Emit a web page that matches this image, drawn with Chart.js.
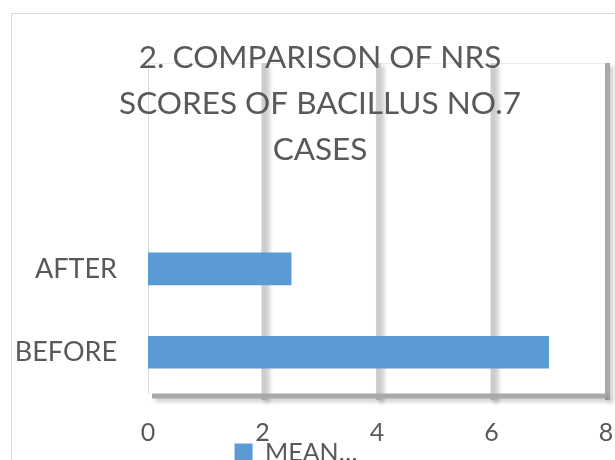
<!DOCTYPE html>
<html>
<head>
<meta charset="utf-8">
<script src="https://cdn.jsdelivr.net/npm/chart.js@4.4.1/dist/chart.umd.min.js"></script>
<style>
  html, body { margin: 0; padding: 0; background: #fff; overflow: hidden; }
  body { width: 615px; height: 460px; position: relative; }
  #marco { position: absolute; left: 11px; top: 13px; width: 700px; height: 600px; border: 1px solid #d9d9d9; box-sizing: border-box; }
  #grafico { position: absolute; left: 0; top: 0; }
</style>
</head>
<body>
<div id="marco"></div>
<canvas id="grafico" width="640" height="475"></canvas>
<script>
const titulo = ["2. COMPARISON OF NRS", "SCORES OF BACILLUS NO.7", "CASES"];
const categorias = ["BEFORE", "AFTER"]; // el primero queda abajo, como en Excel
const mediaNRS = [7.0, 2.5];
const serie = "MEAN…";
const ticksX = [0, 2, 4, 6, 8];

const gris = "#595959";
const azul = "#5b9bd5";

// título encima del área de trazado (Excel lo superpone a la rejilla)
const tituloPlugin = {
  id: "tituloSobrePlot",
  afterDraw(chart) {
    const ctx = chart.ctx;
    ctx.save();
    ctx.font = "31.5px Lato";
    ctx.fillStyle = gris;
    ctx.textAlign = "center";
    ctx.textBaseline = "alphabetic";
    titulo.forEach((linea, i) => ctx.fillText(linea, 320, 68 + i * 46));
    ctx.restore();
  },
};

// rejilla con sombra al estilo Excel, pintada con la escala x del gráfico
const rejillaPlugin = {
  id: "rejillaSombra",
  beforeDatasetsDraw(chart) {
    const { ctx, chartArea } = chart;
    const x = chart.scales.x;
    const { top, bottom, left, right } = chartArea;

    ctx.save();
    // borde superior fino
    ctx.strokeStyle = "#ececec";
    ctx.lineWidth = 1;
    ctx.beginPath();
    ctx.moveTo(left, top + 0.5);
    ctx.lineTo(right, top + 0.5);
    ctx.stroke();

    ctx.shadowColor = "rgba(0,0,0,0.22)";
    ctx.shadowBlur = 4;
    ctx.shadowOffsetX = 3;
    ctx.shadowOffsetY = 3;
    ctx.lineWidth = 5;

    ticksX.forEach((v) => {
      if (v === ticksX[0]) return;
      const px = x.getPixelForValue(v) + 1.5;
      ctx.strokeStyle = v === ticksX[ticksX.length - 1] ? "#a9a9a9" : "#cdcdcd";
      ctx.beginPath();
      ctx.moveTo(px, top);
      ctx.lineTo(px, bottom + 6);
      ctx.stroke();
    });

    // borde inferior grueso
    ctx.strokeStyle = "#a9a9a9";
    ctx.beginPath();
    ctx.moveTo(left + 4, bottom + 2);
    ctx.lineTo(right, bottom + 2);
    ctx.stroke();
    ctx.restore();

    // eje vertical izquierdo, fino y sin sombra
    ctx.save();
    ctx.strokeStyle = "#d9d9d9";
    ctx.lineWidth = 1;
    ctx.beginPath();
    ctx.moveTo(left + 0.5, top);
    ctx.lineTo(left + 0.5, bottom);
    ctx.stroke();
    ctx.restore();
  },
};

const crear = () => {
  new Chart(document.getElementById("grafico"), {
    type: "bar",
    data: {
      datasets: [
        {
          label: serie,
          data: categorias.map((c, i) => ({ x: mediaNRS[i], y: i })),
          backgroundColor: azul,
          borderWidth: 0,
          barThickness: 32,
        },
      ],
    },
    options: {
      indexAxis: "y",
      responsive: false,
      animation: false,
      layout: { padding: { left: -14, right: 34, top: 63, bottom: 0 } },
      plugins: {
        title: { display: false },
        tooltip: { enabled: false },
        legend: {
          position: "bottom",
          labels: {
            boxWidth: 18,
            boxHeight: 18,
            padding: -3,
            color: gris,
            font: { family: "Lato", size: 25 },
          },
        },
      },
      scales: {
        x: {
          type: "linear",
          min: ticksX[0],
          max: ticksX[ticksX.length - 1],
          afterBuildTicks: (s) => {
            s.ticks = ticksX.map((v) => ({ value: v }));
          },
          afterFit: (s) => {
            s.height = 49;
          },
          ticks: { padding: 24, color: gris, font: { family: "Lato", size: 25 } },
          grid: { display: false, drawTicks: false },
          border: { display: false },
        },
        y: {
          type: "linear",
          offset: false,
          min: -0.5,
          max: 3.467,
          afterBuildTicks: (s) => {
            s.ticks = categorias.map((c, i) => ({ value: i }));
          },
          afterFit: (s) => {
            s.width = 162;
          },
          ticks: {
            callback: (v) => categorias[v],
            padding: 31,
            color: gris,
            font: { family: "Lato", size: 27 },
          },
          grid: { display: false, drawTicks: false },
          border: { display: false },
        },
      },
    },
    plugins: [rejillaPlugin, tituloPlugin],
  });
};

document.fonts.load("25px Lato").then(crear, crear);
</script>
</body>
</html>
